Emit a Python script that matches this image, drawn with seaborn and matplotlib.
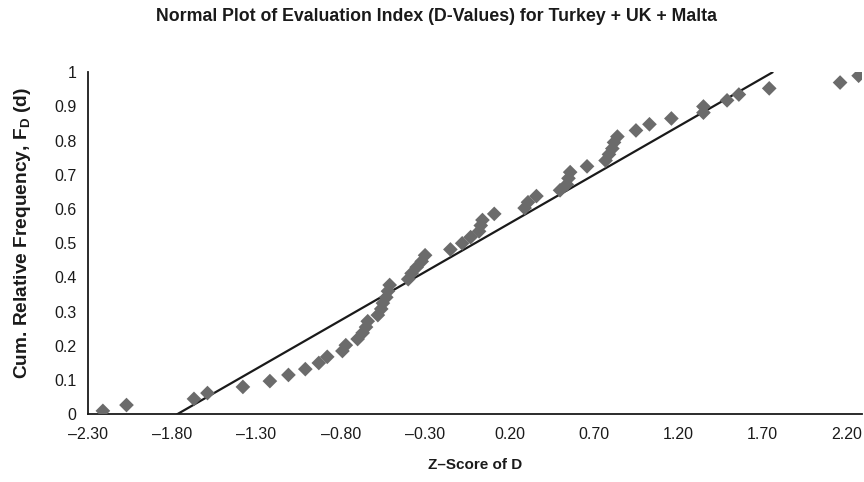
import matplotlib
matplotlib.use("Agg")
import matplotlib.pyplot as plt
import seaborn as sns
import pandas as pd

# Data
z_scores = [-2.21, -2.07, -1.67, -1.59, -1.38, -1.22, -1.11, -1.01, -0.93, -0.88,
            -0.79, -0.77, -0.70, -0.67, -0.65, -0.64, -0.58, -0.56, -0.55, -0.53,
            -0.52, -0.51, -0.40, -0.38, -0.35, -0.32, -0.30, -0.15, -0.08, -0.03,
            0.02, 0.03, 0.04, 0.11, 0.29, 0.31, 0.36, 0.50, 0.54, 0.55,
            0.56, 0.66, 0.77, 0.79, 0.81, 0.82, 0.84, 0.95, 1.03, 1.16,
            1.35, 1.35, 1.49, 1.56, 1.74, 2.16, 2.27]
cum_freq = [0.010, 0.027, 0.045, 0.062, 0.080, 0.097, 0.115, 0.132, 0.150, 0.168,
            0.185, 0.202, 0.220, 0.238, 0.255, 0.272, 0.290, 0.308, 0.325, 0.342,
            0.360, 0.378, 0.395, 0.412, 0.430, 0.447, 0.465, 0.482, 0.500, 0.518,
            0.535, 0.552, 0.568, 0.586, 0.603, 0.620, 0.638, 0.655, 0.672, 0.690,
            0.708, 0.725, 0.742, 0.760, 0.777, 0.795, 0.812, 0.830, 0.848, 0.865,
            0.882, 0.900, 0.918, 0.935, 0.953, 0.970, 0.990]
fit_z = [-1.77, 1.76]
fit_f = [0.0, 1.0]

x_ticks = [-2.30, -1.80, -1.30, -0.80, -0.30, 0.20, 0.70, 1.20, 1.70, 2.20]
x_tick_labels = ["\u20132.30", "\u20131.80", "\u20131.30", "\u20130.80", "\u20130.30",
                 "0.20", "0.70", "1.20", "1.70", "2.20"]
y_ticks = [0, 0.1, 0.2, 0.3, 0.4, 0.5, 0.6, 0.7, 0.8, 0.9, 1.0]
y_tick_labels = ["0", "0.1", "0.2", "0.3", "0.4", "0.5", "0.6", "0.7", "0.8", "0.9", "1"]

title = "Normal Plot of Evaluation Index (D-Values) for Turkey + UK + Malta"
x_label = "Z\u2013Score of D"
y_label = r"Cum. Relative Frequency, F$_\mathbf{D}$ (d)"

sns.set_style("white")
plt.rcParams["font.family"] = ["Liberation Sans", "DejaVu Sans"]
plt.rcParams["mathtext.fontset"] = "custom"
plt.rcParams["mathtext.bf"] = "Liberation Sans:bold"
plt.rcParams["mathtext.rm"] = "Liberation Sans"

points = pd.DataFrame({"z": z_scores, "F": cum_freq})
fit = pd.DataFrame({"z": fit_z, "F": fit_f})

fig = plt.figure(figsize=(8.64, 4.82), dpi=100)
ax = fig.add_axes([0.1015, 0.1405, 0.8962, 0.7095])

sns.lineplot(data=fit, x="z", y="F", ax=ax, color="#1a1a1a", linewidth=1.6)
sns.scatterplot(data=points, x="z", y="F", ax=ax, marker="D", s=56,
                color="#6b6b6b", edgecolor="none", zorder=3)

ax.set_xlim(-2.30, 2.29)
ax.set_ylim(0, 1.0)
ax.set_xticks(x_ticks)
ax.set_xticklabels(x_tick_labels)
ax.set_yticks(y_ticks)
ax.set_yticklabels(y_tick_labels)

for side in ["top", "right"]:
    ax.spines[side].set_visible(False)
for side in ["left", "bottom"]:
    ax.spines[side].set_color("#1a1a1a")
    ax.spines[side].set_linewidth(1.3)

ax.tick_params(axis="both", direction="out", length=4, width=1.1, color="#1a1a1a",
               labelsize=11.5, labelcolor="#1a1a1a", pad=4)
ax.tick_params(axis="x", pad=5)

ax.set_xlabel(x_label, fontsize=11, fontweight="bold", color="#1a1a1a", labelpad=12)
ax.set_ylabel(y_label, fontsize=13.8, fontweight="bold", color="#1a1a1a")
ax.yaxis.set_label_coords(-0.071, 0.53)
fig.text(0.505, 0.965, title, ha="center", va="center", fontsize=12.8,
         fontweight="bold", color="#1a1a1a")

fig.savefig("out.png", dpi=100)
